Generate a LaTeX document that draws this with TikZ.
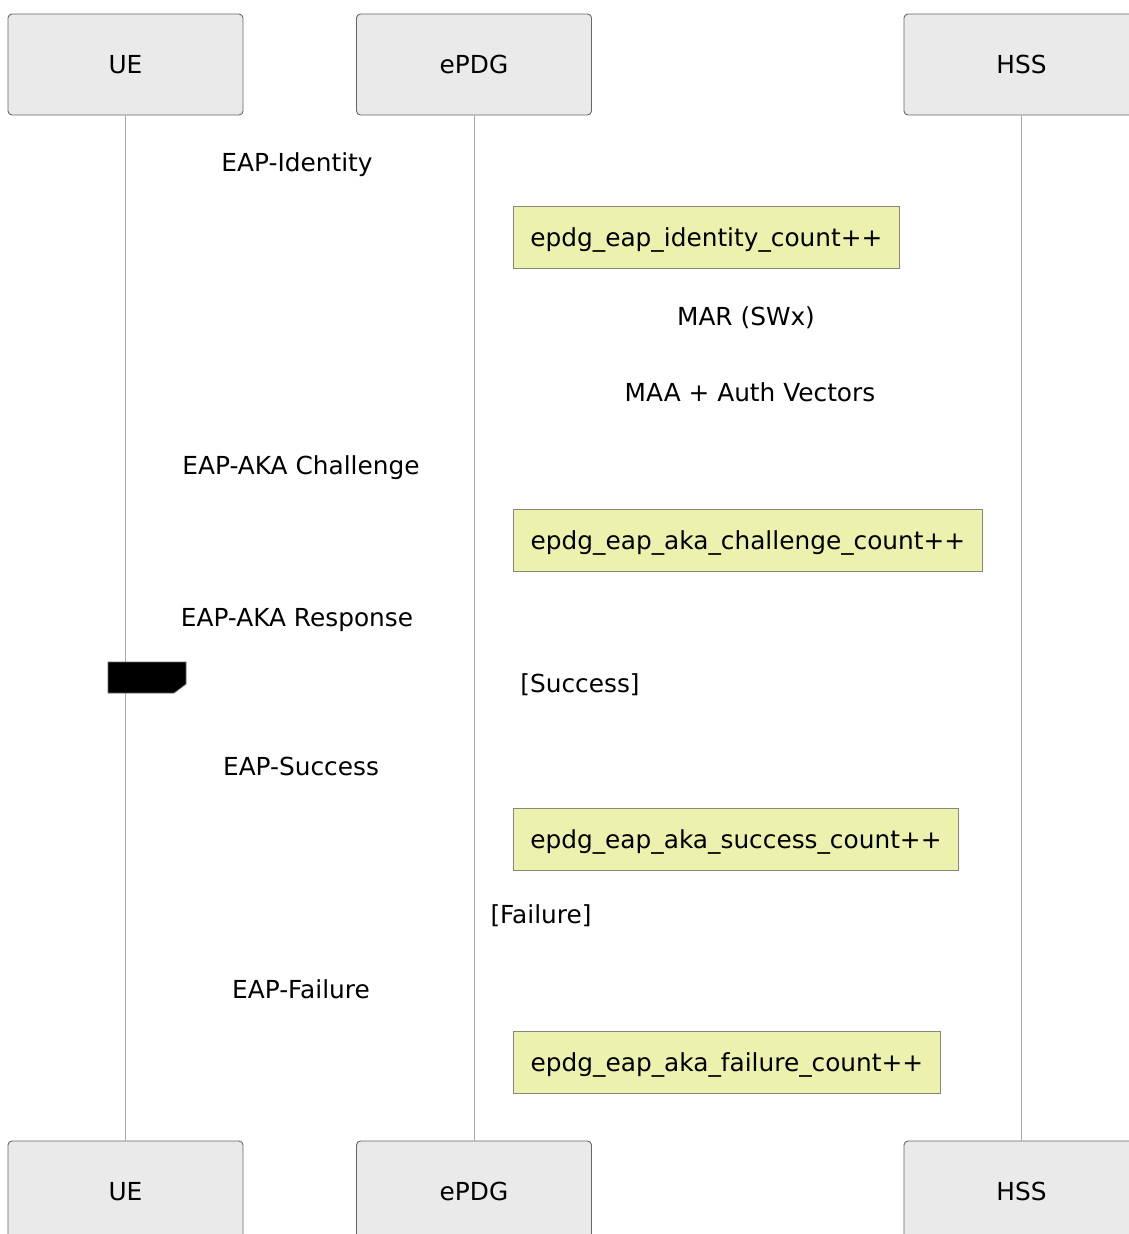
\documentclass[tikz,border=0pt]{standalone}
\usepackage{fontspec}
\setmainfont{DejaVu Sans}
\definecolor{actfill}{RGB}{234,234,234}
\definecolor{actdraw}{RGB}{102,102,102}
\definecolor{notefill}{RGB}{236,242,173}
\definecolor{notedraw}{RGB}{136,136,120}
\definecolor{lifeline}{RGB}{170,170,170}
\begin{document}
\begin{tikzpicture}[x=1pt,y=-1pt,
  actor/.style={draw=actdraw,fill=actfill,rounded corners=4pt,line width=0.9pt,minimum width=235pt,minimum height=101pt,font=\fontsize{24.8}{29}\selectfont,inner sep=0pt,text depth=0pt},
  notebox/.style={draw=notedraw,fill=notefill,line width=0.8pt,minimum height=62pt,font=\fontsize{24.8}{29}\selectfont,inner sep=0pt,anchor=west},
  msg/.style={font=\fontsize{24.8}{29}\selectfont,inner sep=0pt,yshift=-2.5pt},
  life/.style={draw=lifeline,line width=0.8pt}]
\useasboundingbox (0,0) rectangle (1129,1234);
% actors
\node[actor] (ueT) at (125.5,64.5) {UE};
\node[actor] (epT) at (474,64.5) {ePDG};
\node[actor] (hsT) at (1021.5,64.5) {HSS};
\node[actor] (ueB) at (125.5,1191.5) {UE};
\node[actor] (epB) at (474,1191.5) {ePDG};
\node[actor] (hsB) at (1021.5,1191.5) {HSS};
% lifelines
\draw[life] (ueT.south) -- (ueB.north);
\draw[life] (epT.south) -- (epB.north);
\draw[life] (hsT.south) -- (hsB.north);
% messages
\node[msg] (m1) at (297,162) {EAP-Identity};
\node[notebox,minimum width=386pt] (n1) at (513,237) {};
\node[msg] at (n1.center) {epdg\_eap\_identity\_count++};
\node[msg] (m2) at (746,315) {MAR (SWx)};
\node[msg] (m3) at (750,390) {MAA + Auth Vectors};
\node[msg] (m4) at (301,465) {EAP-AKA Challenge};
\node[notebox,minimum width=469pt] (n2) at (513,540) {};
\node[msg] at (n2.center) {epdg\_eap\_aka\_challenge\_count++};
\node[msg] (m5) at (297,618) {EAP-AKA Response};
\fill[black,draw=actdraw,line width=0.6pt] (108,662) -- (186,662) -- (186,684) -- (174,693) -- (108,693) -- cycle;
\node[msg] (g1) at (580,682) {[Success]};
\node[msg] (m6) at (301,764) {EAP-Success};
\node[notebox,minimum width=445pt] (n3) at (513,839) {};
\node[msg] at (n3.center) {epdg\_eap\_aka\_success\_count++};
\node[msg] (g2) at (541,913) {[Failure]};
\node[msg] (m7) at (301,987) {EAP-Failure};
\node[notebox,minimum width=427pt] (n4) at (513,1062) {};
\node[msg] at (n4.center) {epdg\_eap\_aka\_failure\_count++};
\end{tikzpicture}
\end{document}
